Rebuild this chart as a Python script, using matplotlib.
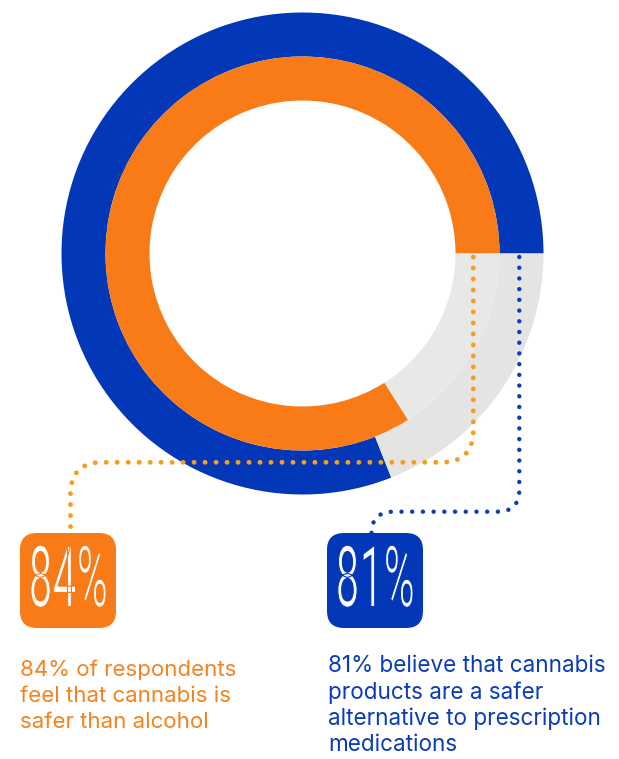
import numpy as np
import matplotlib
matplotlib.use("Agg")
import matplotlib.pyplot as plt
from matplotlib.patches import FancyBboxPatch
from matplotlib.patheffects import AbstractPathEffect
from matplotlib.transforms import Affine2D

# survey results (percent)
alcohol_share = [84, 16]        # inner ring
prescription_share = [81, 19]   # outer ring
big_labels = ["84%", "81%"]
captions = [
    "84% of respondents\nfeel that cannabis is\nsafer than alcohol",
    "81% believe that cannabis\nproducts are a safer\nalternative to prescription\nmedications",
]

BLUE = "#0237b8"
ORANGE = "#f87b17"
GREY_OUT = "#e4e5e3"
GREY_IN = "#e8e8e7"
DOT_ORANGE = "#f79d1c"
DOT_BLUE = "#0a3dbd"

W, H = 619, 759
cx, cy = 302.5, 253.5


class Stretch(AbstractPathEffect):
    """Rescale the glyphs about their own centre (condensed look),
    optionally trimming the strokes with an outline in the background colour."""

    def __init__(self, sx, sy=1.0, trim_color=None, trim_width=0.0):
        super().__init__()
        self.sx, self.sy = sx, sy
        self.trim_color, self.trim_width = trim_color, trim_width

    def draw_path(self, renderer, gc, tpath, affine, rgbFace=None):
        ext = tpath.get_extents()
        mx, my = (ext.x0 + ext.x1) / 2, (ext.y0 + ext.y1) / 2
        warp = Affine2D().translate(-mx, -my).scale(self.sx, self.sy).translate(mx, my)
        tr = warp + affine
        renderer.draw_path(gc, tpath, tr, rgbFace)
        if self.trim_color is not None:
            gc0 = renderer.new_gc()
            gc0.copy_properties(gc)
            gc0.set_foreground(self.trim_color)
            gc0.set_linewidth(self.trim_width)
            gc0.set_joinstyle("round")
            renderer.draw_path(gc0, tpath, tr, None)
            gc0.restore()


fig = plt.figure(figsize=(W / 100, H / 100), dpi=100)
ax = fig.add_axes([0, 0, 1, 1])

# outer ring, then inner ring
ax.pie(prescription_share, radius=241, center=(cx, cy), startangle=0,
       counterclock=False, colors=[BLUE, GREY_OUT],
       wedgeprops=dict(width=44, linewidth=0))
ax.pie(alcohol_share, radius=197, center=(cx, cy), startangle=0,
       counterclock=False, colors=[ORANGE, GREY_IN],
       wedgeprops=dict(width=44, linewidth=0))

ax.set_xlim(0, W)
ax.set_ylim(H, 0)
ax.set_aspect("equal")
ax.axis("off")


def leader(points, radius):
    """Polyline with rounded corners."""
    pts = [np.array(p, float) for p in points]
    xs, ys = [pts[0][0]], [pts[0][1]]
    for i in range(1, len(pts) - 1):
        a, b, c = pts[i - 1], pts[i], pts[i + 1]
        d1 = (b - a) / np.linalg.norm(b - a)
        d2 = (c - b) / np.linalg.norm(c - b)
        p0 = b - d1 * radius
        p1 = b + d2 * radius
        t = np.linspace(0, 1, 20)
        curve = ((1 - t) ** 2)[:, None] * p0 + (2 * (1 - t) * t)[:, None] * b + (t ** 2)[:, None] * p1
        xs.extend(curve[:, 0])
        ys.extend(curve[:, 1])
    xs.append(pts[-1][0])
    ys.append(pts[-1][1])
    return xs, ys


ox, oy = leader([(473.3, 257), (473.3, 462.3), (70.5, 462.3), (70.5, 532)], 32)
ax.plot(ox, oy, color=DOT_ORANGE, linestyle=(0, (0.01, 2.25)),
        dash_capstyle="round", linewidth=3.5, zorder=5)
bx, by = leader([(519.3, 257), (519.3, 511.7), (371.5, 511.7), (371.5, 530)], 22)
ax.plot(bx, by, color=DOT_BLUE, linestyle=(0, (0.01, 2.4)),
        dash_capstyle="round", linewidth=3.2, zorder=5)

# value badges
for x0, col, lab in [(20, ORANGE, big_labels[0]), (327, BLUE, big_labels[1])]:
    ax.add_patch(FancyBboxPatch((x0, 533), 96, 95,
                                boxstyle="round,pad=0,rounding_size=17",
                                facecolor=col, edgecolor="none", zorder=6))
    ax.text(x0 + 48, 580.5, lab, ha="center", va="center", color="white",
            fontsize=40, family="Roboto", fontweight="normal", zorder=7,
            path_effects=[Stretch(0.77, 1.53, trim_color=col, trim_width=0.8)])

# captions
ax.text(20, 660, captions[0], ha="left", va="top", color="#f5821f",
        fontsize=16, family="Inter", linespacing=1.36)
ax.text(328, 655, captions[1], ha="left", va="top", color="#0b3cb7",
        fontsize=16.2, family="Inter", linespacing=1.24)

fig.savefig("out.png", dpi=100, facecolor="white")
